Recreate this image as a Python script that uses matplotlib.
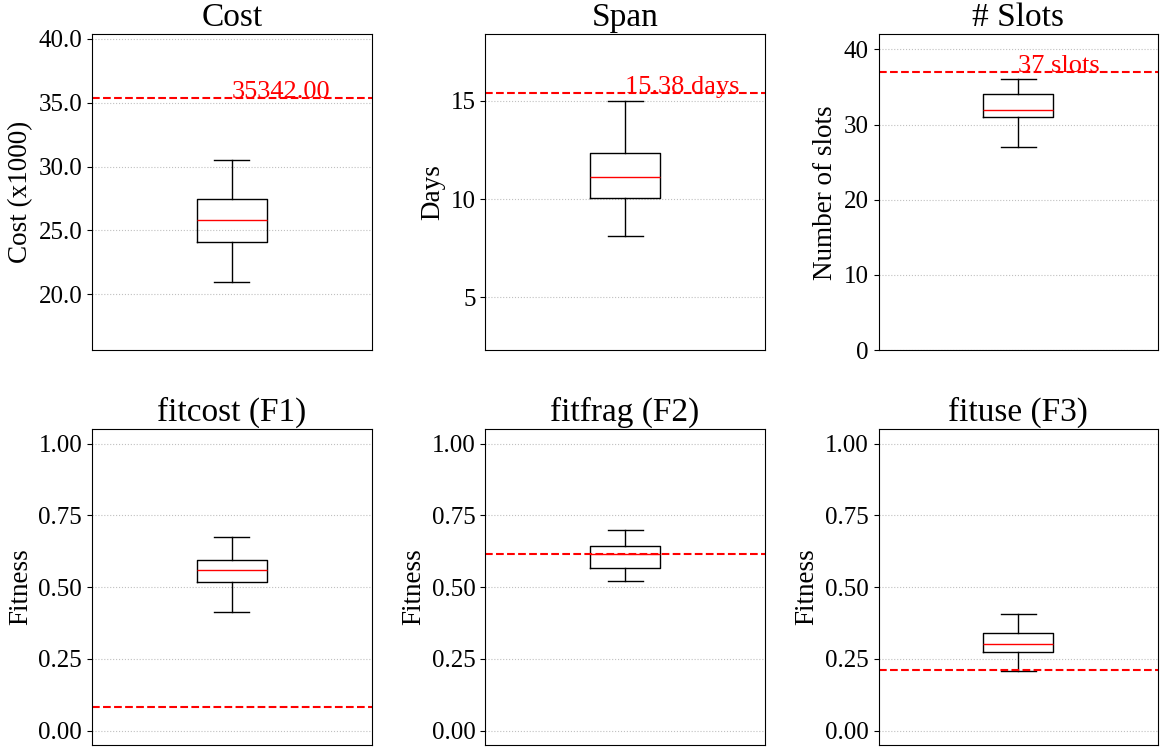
import matplotlib.pyplot as plt

plt.rcParams['font.family'] = ['Liberation Serif', 'DejaVu Serif']

# Panel titles and axis labels
titles = ['Cost', 'Span', '# Slots', 'fitcost (F1)', 'fitfrag (F2)', 'fituse (F3)']
ylabels = ['Cost (x1000)', 'Days', 'Number of slots', 'Fitness', 'Fitness', 'Fitness']

# Box statistics per panel: lower whisker, Q1, median, Q3, upper whisker
whislo = [21.01, 8.10, 27.0, 0.414, 0.522, 0.208]
q1 = [24.07, 10.07, 31.0, 0.516, 0.565, 0.273]
med = [25.79, 11.13, 32.0, 0.559, 0.615, 0.301]
q3 = [27.48, 12.36, 34.0, 0.596, 0.643, 0.341]
whishi = [30.51, 15.00, 36.0, 0.675, 0.699, 0.408]

# Reference values (red dashed lines) and their labels
ref_values = [35.342, 15.38, 37.0, 0.0825, 0.616, 0.212]
ref_labels = ['35342.00', '15.38 days', '37 slots', None, None, None]

ylims = [(15.64, 40.34), (2.32, 18.38), (0, 42.0),
         (-0.05, 1.05), (-0.05, 1.05), (-0.05, 1.05)]
yticks = [[20, 25, 30, 35, 40], [5, 10, 15], [0, 10, 20, 30, 40],
          [0, 0.25, 0.5, 0.75, 1.0], [0, 0.25, 0.5, 0.75, 1.0], [0, 0.25, 0.5, 0.75, 1.0]]
yfmt = ['{:.1f}', '{:.0f}', '{:.0f}', '{:.2f}', '{:.2f}', '{:.2f}']

fig, axes = plt.subplots(2, 3, figsize=(11.67, 7.49), dpi=100)
fig.subplots_adjust(left=0.0788, right=0.9925, top=0.9542, bottom=0.0053,
                    wspace=0.406, hspace=0.25)

for i, ax in enumerate(axes.flat):
    stats = [dict(whislo=whislo[i], q1=q1[i], med=med[i], q3=q3[i],
                  whishi=whishi[i], fliers=[])]
    ax.bxp(stats, positions=[1], widths=0.15, showfliers=False,
           boxprops=dict(color='black', linewidth=1),
           whiskerprops=dict(color='black', linewidth=1),
           capprops=dict(color='black', linewidth=1),
           medianprops=dict(color='red', linewidth=1))
    ax.axhline(ref_values[i], color='red', linestyle='--', linewidth=1.5)
    if ref_labels[i]:
        ax.text(1, ref_values[i], ref_labels[i], color='red', fontsize=19,
                ha='left', va='baseline')
    ax.set_xlim(0.7, 1.3)
    ax.set_xticks([])
    ax.set_ylim(*ylims[i])
    ax.set_yticks(yticks[i])
    ax.set_yticklabels([yfmt[i].format(t) for t in yticks[i]])
    ax.tick_params(axis='y', labelsize=18)
    ax.yaxis.grid(True, linestyle=':', color='#c0c0c0', linewidth=0.8)
    ax.set_axisbelow(True)
    ax.set_title(titles[i], fontsize=24)
    ax.set_ylabel(ylabels[i], fontsize=19.5)

fig.savefig('out.png', dpi=100)
